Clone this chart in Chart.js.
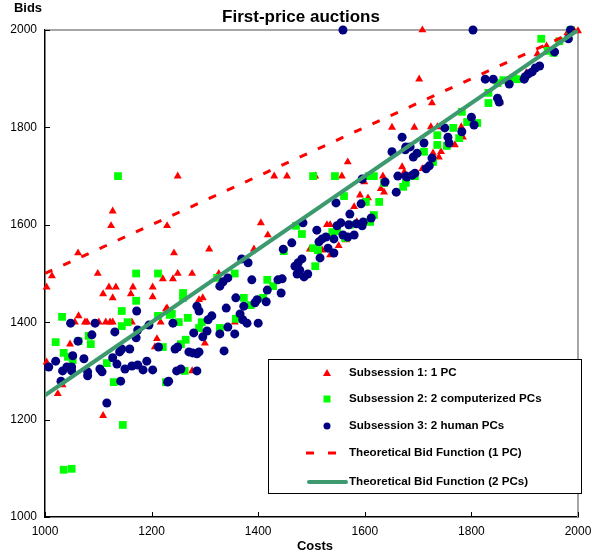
<!DOCTYPE html>
<html>
<head>
<meta charset="utf-8">
<script src="https://cdn.jsdelivr.net/npm/chart.js@4.4.1/dist/chart.umd.min.js"></script>
<style>
  html, body { margin: 0; padding: 0; background: #fff; }
  #wrap { width: 592px; height: 554px; }
</style>
</head>
<body>
<div id="wrap"><canvas id="auctionChart" width="592" height="554"></canvas></div>
<script>
// Subsession 1: 1 PC
const pc1Costs = [1062, 1013, 1003, 1099, 1109, 1120, 1133, 1127, 1165, 1161, 1202, 1202, 1221, 1063, 1056, 1075,
  1079, 1101, 1114, 1122, 1127, 1163, 1217, 1227, 1047, 1210, 1206, 1003, 1024, 1109, 1033, 1249, 1229, 1405, 1418,
  1242, 1308, 1392, 1249, 1276, 1240, 1326, 1296, 1289, 1229, 1356, 1300, 1276, 1430, 1454, 1568, 1557, 1507, 1670,
  1674, 1634, 1599, 1591, 1606, 1630, 1636, 1580, 1529, 1535, 1551, 1565, 1535, 1497, 1473, 1585, 1520, 1708, 1702,
  1726, 1693, 1724, 1736, 1781, 1784, 1769, 1728, 1743, 1739, 1854, 1924, 1941, 1980, 1992, 2000, 1903, 1708, 1127,
  1124, 1651];
const pc1Bids = [1542, 1495, 1472, 1500, 1458, 1472, 1472, 1450, 1472, 1458, 1472, 1452, 1489, 1413, 1400, 1400,
  1400, 1400, 1400, 1400, 1400, 1400, 1400, 1427, 1355, 1366, 1349, 1318, 1253, 1208, 1271, 1700, 1598, 1604, 1579,
  1542, 1550, 1550, 1500, 1500, 1489, 1500, 1450, 1446, 1429, 1400, 1357, 1300, 1700, 1700, 1729, 1700, 1700, 1719,
  1708, 1700, 1688, 1661, 1655, 1674, 1667, 1637, 1600, 1600, 1557, 1569, 1538, 1550, 1500, 1606, 1548, 2000, 1899,
  1850, 1800, 1801, 1801, 1801, 1780, 1764, 1747, 1750, 1739, 1852, 1951, 1967, 1994, 2000, 1998, 1912, 1715, 1628,
  1598, 1800];

// Subsession 2: 2 computerized PCs
const pc2Costs = [1171, 1212, 1171, 1144, 1032, 1155, 1144, 1212, 1234, 1020, 1063, 1086, 1082, 1035, 1043, 1052,
  1116, 1129, 1221, 1227, 1146, 1035, 1050, 1356, 1323, 1417, 1428, 1259, 1259, 1373, 1386, 1409, 1238, 1268, 1294,
  1251, 1289, 1328, 1358, 1264, 1255, 1262, 1448, 1503, 1544, 1608, 1617, 1561, 1602, 1627, 1672, 1636, 1617, 1471,
  1482, 1539, 1548, 1572, 1563, 1503, 1512, 1507, 1931, 1965, 1986, 1943, 1954, 1849, 1860, 1886, 1879, 1832, 1832,
  1782, 1792, 1811, 1766, 1777, 1754, 1736, 1736, 1711, 1728, 1694, 1677, 1610, 1137];
const pc2Bids = [1500, 1500, 1444, 1423, 1411, 1400, 1392, 1413, 1415, 1359, 1361, 1355, 1372, 1337, 1329, 1322,
  1316, 1277, 1349, 1277, 1189, 1097, 1099, 1500, 1491, 1487, 1474, 1460, 1450, 1450, 1435, 1450, 1417, 1409, 1400,
  1400, 1388, 1388, 1407, 1364, 1355, 1300, 1546, 1700, 1700, 1700, 1700, 1659, 1647, 1647, 1678, 1686, 1620, 1598,
  1581, 1585, 1587, 1600, 1573, 1552, 1548, 1515, 1982, 1977, 2000, 1957, 1953, 1891, 1897, 1899, 1901, 1871, 1850,
  1832, 1811, 1809, 1799, 1778, 1762, 1764, 1784, 1750, 1729, 1700, 1686, 1606, 1700];

// Subsession 3: 2 human PCs
const pc3Costs = [1172, 1048, 1094, 1195, 1174, 1131, 1088, 1062, 1171, 1159, 1144, 1140, 1213, 1052, 1020, 1073,
  1127, 1135, 1191, 1007, 1041, 1050, 1033, 1050, 1080, 1080, 1103, 1107, 1150, 1163, 1174, 1184, 1202, 1142, 1030,
  1230, 1116, 1447, 1369, 1381, 1343, 1334, 1328, 1388, 1437, 1417, 1443, 1358, 1398, 1394, 1415, 1285, 1289, 1340,
  1373, 1366, 1313, 1306, 1371, 1379, 1400, 1240, 1343, 1304, 1279, 1328, 1356, 1296, 1249, 1244, 1270, 1277, 1285,
  1289, 1336, 1247, 1255, 1285, 1232, 1651, 1677, 1595, 1638, 1662, 1677, 1659, 1546, 1593, 1572, 1484, 1510, 1555,
  1548, 1570, 1584, 1595, 1597, 1612, 1527, 1542, 1559, 1568, 1580, 1463, 1514, 1520, 1531, 1542, 1516, 1482, 1475,
  1469, 1478, 1473, 1486, 1493, 1445, 1803, 1986, 1982, 1956, 1928, 1920, 1914, 1907, 1901, 1899, 1826, 1841, 1871,
  1849, 1852, 1800, 1805, 1782, 1750, 1756, 1758, 1670, 1711, 1685, 1676, 1698, 1691, 1726, 1721, 1715, 1694, 1689,
  1679, 1559];
const pc3Bids = [1423, 1398, 1398, 1394, 1384, 1380, 1374, 1361, 1368, 1345, 1345, 1339, 1349, 1331, 1320, 1325,
  1327, 1314, 1320, 1308, 1308, 1308, 1300, 1300, 1298, 1290, 1304, 1298, 1304, 1310, 1312, 1302, 1302, 1279, 1279,
  1277, 1234, 1550, 1530, 1522, 1491, 1483, 1474, 1487, 1487, 1466, 1460, 1450, 1446, 1440, 1442, 1433, 1423, 1429,
  1433, 1417, 1413, 1405, 1405, 1398, 1398, 1398, 1390, 1382, 1378, 1376, 1376, 1370, 1349, 1345, 1339, 1337, 1335,
  1339, 1341, 1300, 1304, 1300, 1279, 1750, 1760, 1694, 1688, 1700, 1700, 1667, 1645, 1643, 1622, 1604, 1589, 1604,
  1598, 1600, 1602, 1598, 1606, 1614, 1575, 1571, 1579, 1575, 1579, 1563, 1565, 1571, 1552, 1542, 1532, 1530, 1522,
  1515, 1507, 1499, 1493, 1499, 1489, 2000, 2000, 1982, 1955, 1926, 1922, 1914, 1910, 1904, 1899, 1899, 1899, 1889,
  1860, 1852, 1821, 1805, 1791, 1799, 1780, 1768, 1780, 1768, 1760, 1754, 1747, 1739, 1737, 1721, 1715, 1706, 1702,
  1698, 2000];

// theoretical bid functions (end points)
const theoryCosts = [1000, 2000];
const theory1PC = [1500, 2000];
const theory2PC = [1250, 2000];

const axisTicks = [1000, 1200, 1400, 1600, 1800, 2000];

const FONT = "'Liberation Sans', Arial, sans-serif";

function pairs(xs, ys) {
  return xs.map((x, i) => ({ x: x, y: ys[i] }));
}

// frame, inward ticks, titles, legend box
const extras = {
  id: 'extras',
  beforeDatasetsDraw(chart) {
    const { ctx, chartArea: a, scales } = chart;
    ctx.save();
    ctx.strokeStyle = '#a6a6a6';
    ctx.lineWidth = 2;
    ctx.beginPath();
    ctx.moveTo(a.left, a.top);
    ctx.lineTo(a.right, a.top);
    ctx.lineTo(a.right, a.bottom);
    ctx.stroke();

    ctx.strokeStyle = '#000';
    ctx.lineWidth = 1;
    ctx.beginPath();
    axisTicks.forEach(v => {
      const px = Math.round(scales.x.getPixelForValue(v)) + 0.5;
      ctx.moveTo(px, a.bottom);
      ctx.lineTo(px, a.bottom - 5);
      const py = Math.round(scales.y.getPixelForValue(v)) + 0.5;
      ctx.moveTo(a.left, py);
      ctx.lineTo(a.left + 5, py);
    });
    ctx.stroke();
    ctx.restore();
  },
  afterDraw(chart) {
    const { ctx } = chart;
    ctx.save();
    ctx.fillStyle = '#000';
    ctx.textAlign = 'center';
    ctx.textBaseline = 'middle';
    ctx.font = 'bold 17px ' + FONT;
    ctx.fillText('First-price auctions', 301, 17);
    ctx.font = 'bold 13px ' + FONT;
    ctx.fillText('Bids', 28, 8);
    ctx.fillText('Costs', 315, 546);

    // legend
    const box = { l: 268, t: 359, r: 581, b: 493 };
    ctx.fillStyle = '#fff';
    ctx.fillRect(box.l, box.t, box.r - box.l, box.b - box.t);
    ctx.strokeStyle = '#000';
    ctx.lineWidth = 1;
    ctx.strokeRect(box.l + 0.5, box.t + 0.5, box.r - box.l, box.b - box.t);

    const rows = [373, 399, 426, 453, 482];
    const sx = 327;
    chart.data.datasets.forEach((ds, i) => {
      const y = rows[i];
      ctx.save();
      if (ds.pointStyle === 'triangle') {
        ctx.fillStyle = ds.backgroundColor;
        ctx.beginPath();
        ctx.moveTo(sx, y - 4);
        ctx.lineTo(sx + 4, y + 3);
        ctx.lineTo(sx - 4, y + 3);
        ctx.closePath();
        ctx.fill();
      } else if (ds.pointStyle === 'rect') {
        ctx.fillStyle = ds.backgroundColor;
        ctx.fillRect(sx - 3.5, y - 3.5, 7, 7);
      } else if (ds.pointStyle === 'circle') {
        ctx.fillStyle = ds.backgroundColor;
        ctx.beginPath();
        ctx.arc(sx, y, 3.5, 0, Math.PI * 2);
        ctx.fill();
      } else {
        ctx.strokeStyle = ds.borderColor;
        ctx.lineWidth = ds.borderWidth;
        ctx.lineCap = ds.borderDash ? 'butt' : 'round';
        ctx.beginPath();
        if (ds.borderDash) {
          ctx.moveTo(306, y); ctx.lineTo(314, y);
          ctx.moveTo(328, y); ctx.lineTo(336, y);
        } else {
          ctx.moveTo(309, y); ctx.lineTo(346, y);
        }
        ctx.stroke();
      }
      ctx.restore();
      ctx.fillStyle = '#000';
      ctx.textAlign = 'left';
      ctx.textBaseline = 'middle';
      ctx.font = 'bold 11.6px ' + FONT;
      ctx.fillText(ds.label, 349, y);
    });
    ctx.restore();
  }
};

const ctx = document.getElementById('auctionChart').getContext('2d');

new Chart(ctx, {
  type: 'scatter',
  data: {
    datasets: [{
      label: 'Subsession 1: 1 PC',
      data: pairs(pc1Costs, pc1Bids),
      pointStyle: 'triangle',
      pointRadius: 4.6,
      backgroundColor: '#ff0000',
      borderColor: '#ff0000',
      borderWidth: 0,
      clip: false,
      order: 5
    }, {
      label: 'Subsession 2: 2 computerized PCs',
      data: pairs(pc2Costs, pc2Bids),
      pointStyle: 'rect',
      pointRadius: 5.5,
      backgroundColor: '#00ff00',
      borderColor: '#00ff00',
      borderWidth: 0,
      clip: false,
      order: 4
    }, {
      label: 'Subsession 3: 2 human PCs',
      data: pairs(pc3Costs, pc3Bids),
      pointStyle: 'circle',
      pointRadius: 4.5,
      backgroundColor: '#000080',
      borderColor: '#000080',
      borderWidth: 0,
      clip: false,
      order: 3
    }, {
      label: 'Theoretical Bid Function (1 PC)',
      data: pairs(theoryCosts, theory1PC),
      showLine: true,
      pointRadius: 0,
      borderColor: '#ff0000',
      borderWidth: 3,
      borderDash: [8, 12],
      order: 2
    }, {
      label: 'Theoretical Bid Function (2 PCs)',
      data: pairs(theoryCosts, theory2PC),
      showLine: true,
      pointRadius: 0,
      borderColor: '#3c9a6e',
      borderWidth: 4,
      order: 1
    }]
  },
  options: {
    responsive: false,
    animation: false,
    layout: {
      padding: { top: 30, right: 14, left: 0, bottom: 0 }
    },
    plugins: {
      legend: { display: false },
      tooltip: { enabled: false },
      title: { display: false }
    },
    scales: {
      x: {
        type: 'linear',
        min: 1000,
        max: 2000,
        afterFit: s => { s.height = 37; s.paddingRight = 0; s.paddingLeft = 0; },
        afterBuildTicks: s => { s.ticks = axisTicks.map(v => ({ value: v })); },
        grid: { display: false, drawTicks: false },
        border: { display: true, color: '#000', width: 1.5 },
        ticks: {
          color: '#000',
          padding: 7,
          maxRotation: 0,
          callback: v => String(v),
          font: { family: FONT, size: 12 }
        }
      },
      y: {
        type: 'linear',
        min: 1000,
        max: 2000,
        afterFit: s => { s.width = 45; s.paddingTop = 0; s.paddingBottom = 0; },
        afterBuildTicks: s => { s.ticks = axisTicks.map(v => ({ value: v })); },
        grid: { display: false, drawTicks: false },
        border: { display: true, color: '#000', width: 1.5 },
        ticks: {
          color: '#000',
          padding: 8,
          callback: v => String(v),
          font: { family: FONT, size: 12 }
        }
      }
    }
  },
  plugins: [extras]
});
</script>
</body>
</html>
